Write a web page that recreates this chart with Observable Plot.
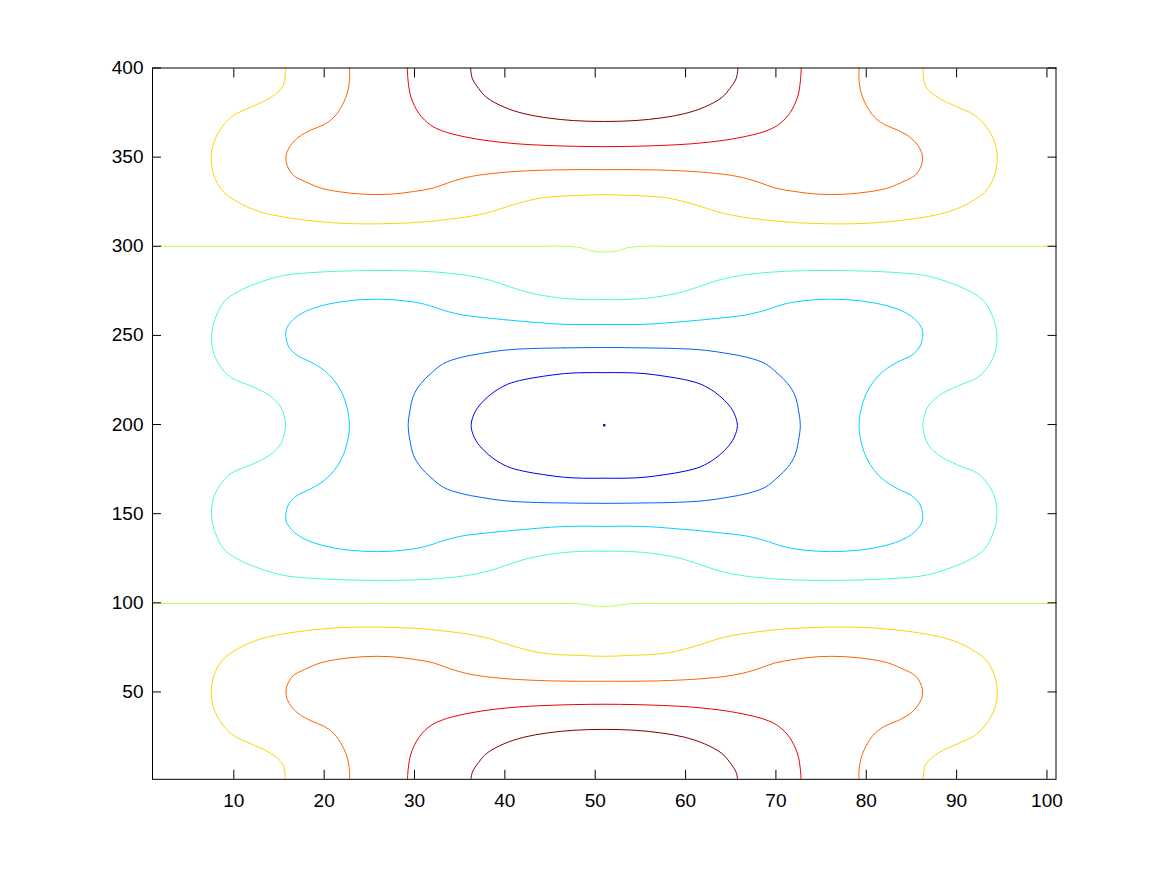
<!DOCTYPE html>
<html>
<head>
<meta charset="utf-8">
<script src="https://cdn.jsdelivr.net/npm/d3@7"></script>
<script src="https://cdn.jsdelivr.net/npm/@observablehq/plot@0.6"></script>
<style>
  html, body { margin: 0; padding: 0; background: #ffffff; }
  #chart { position: absolute; left: 0; top: 0; }
</style>
</head>
<body>
<div id="chart"></div>
<script>
// Contour levels (jet colormap, low to high)
const levels = [0, 1, 2, 3, 4, 5, 6, 7, 8, 9];
const levelColors = ["#000080", "#0000f1", "#0063ff", "#00d4ff", "#47ffb8",
                     "#b8ff47", "#ffd400", "#ff6300", "#f10000", "#800000"];

// Axis ticks
const xTicks = [10, 20, 30, 40, 50, 60, 70, 80, 90, 100];
const yTicks = [50, 100, 150, 200, 250, 300, 350, 400];

// ---- Open contour lines ----
const top9 = [[36.2,400],[36.4,394.1],[37.1,388.5],[38.0,383.4],[39.9,378.1],[42.1,374.4],[44.7,372.0],[47.6,370.5],[51,370.0],[54.4,370.5],[57.3,372.0],[59.9,374.4],[62.1,378.1],[64.0,383.4],[64.9,388.5],[65.6,394.1],[65.8,400]];
const top8 = [[29.2,400],[29.3,392.2],[29.6,383.8],[30.5,374.4],[31.8,367.9],[33.2,364.5],[35.1,361.9],[37.7,359.5],[40.6,357.8],[43.6,356.8],[47.6,356.1],[51,355.9],[54.4,356.1],[58.4,356.8],[61.4,357.8],[64.3,359.5],[66.9,361.9],[68.8,364.5],[70.2,367.9],[71.5,374.4],[72.4,383.8],[72.7,392.2],[72.8,400]];
const top7 = [[22.8,400],[22.8,393.1],[22.6,386.6],[22.0,379.1],[21.1,372.5],[20.0,368.3],[18.5,365.1],[17.2,361.3],[16.3,356.7],[15.8,351.1],[15.9,345.4],[16.6,339.8],[17.8,336.5],[19.6,332.7],[21.8,330.5],[24.4,329.2],[27.3,329.2],[29.9,330.7],[32.1,332.7],[34.0,336.1],[36.2,339.1],[39.5,341.3],[45.1,342.8],[51,343.0],[56.9,342.8],[62.5,341.3],[65.8,339.1],[68.0,336.1],[69.9,332.7],[72.1,330.7],[74.7,329.2],[77.6,329.2],[80.2,330.5],[82.4,332.7],[84.2,336.5],[85.4,339.8],[86.1,345.4],[86.2,351.1],[85.7,356.7],[84.8,361.3],[83.5,365.1],[82.0,368.3],[80.9,372.5],[80.0,379.1],[79.4,386.6],[79.2,393.1],[79.2,400]];
const top6 = [[15.7,400],[15.7,396.9],[15.4,389.4],[13.9,382.9],[11.9,378.1],[10.0,373.5],[8.7,366.9],[7.8,358.5],[7.5,350.1],[7.8,339.8],[8.7,331.4],[10.4,324.9],[13.0,319.2],[17.4,315.0],[22.9,312.7],[29.2,313.1],[33.6,315.0],[37.7,318.3],[41.4,324.0],[44.3,327.3],[48.7,328.6],[51,329.0],[53.3,328.6],[57.7,327.3],[60.6,324.0],[64.3,318.3],[68.4,315.0],[72.8,313.1],[79.1,312.7],[84.6,315.0],[89.0,319.2],[91.6,324.9],[93.3,331.4],[94.2,339.8],[94.5,350.1],[94.2,358.5],[93.3,366.9],[92.0,373.5],[90.1,378.1],[88.1,382.9],[86.6,389.4],[86.3,396.9],[86.3,400]];
const zeroTop = [[1,300],[44,300],[46.5,300],[48.4,299.2],[49.6,297.4],[51,296.8],[52.4,297.4],[53.6,299.2],[55.5,300],[58,300],[101,300]];
const zeroBottom = [[1,99.6],[44,99.6],[47.4,99.6],[48.6,99.2],[50.0,98.2],[51,98.0],[52,98.2],[53.4,99.2],[54.6,99.6],[58,99.6],[101,99.6]];
const bottom6 = [[15.7,-1],[15.7,2.1],[15.4,9.6],[13.9,16.1],[11.9,20.9],[10.0,25.5],[8.7,32.1],[7.8,40.5],[7.5,48.9],[7.8,59.2],[8.7,67.6],[10.4,74.1],[13.0,79.8],[17.4,84.0],[22.9,86.3],[29.2,85.9],[33.6,84.0],[37.7,80.7],[41.4,75.0],[44.3,71.7],[48.7,70.4],[51,70.0],[53.3,70.4],[57.7,71.7],[60.6,75.0],[64.3,80.7],[68.4,84.0],[72.8,85.9],[79.1,86.3],[84.6,84.0],[89.0,79.8],[91.6,74.1],[93.3,67.6],[94.2,59.2],[94.5,48.9],[94.2,40.5],[93.3,32.1],[92.0,25.5],[90.1,20.9],[88.1,16.1],[86.6,9.6],[86.3,2.1],[86.3,-1]];
const bottom7 = [[22.8,-1],[22.8,5.9],[22.6,12.4],[22.0,19.9],[21.1,26.5],[20.0,30.7],[18.5,33.9],[17.2,37.7],[16.3,42.3],[15.8,47.9],[15.9,53.6],[16.6,59.2],[17.8,62.5],[19.6,66.3],[21.8,68.5],[24.4,69.8],[27.3,69.8],[29.9,68.3],[32.1,66.3],[34.0,62.9],[36.2,59.9],[39.5,57.7],[45.1,56.2],[51,56.0],[56.9,56.2],[62.5,57.7],[65.8,59.9],[68.0,62.9],[69.9,66.3],[72.1,68.3],[74.7,69.8],[77.6,69.8],[80.2,68.5],[82.4,66.3],[84.2,62.5],[85.4,59.2],[86.1,53.6],[86.2,47.9],[85.7,42.3],[84.8,37.7],[83.5,33.9],[82.0,30.7],[80.9,26.5],[80.0,19.9],[79.4,12.4],[79.2,5.9],[79.2,-1]];
const bottom8 = [[29.2,-1],[29.3,6.8],[29.6,15.2],[30.5,24.6],[31.8,31.1],[33.2,34.5],[35.1,37.1],[37.7,39.5],[40.6,41.2],[43.6,42.2],[47.6,42.9],[51,43.1],[54.4,42.9],[58.4,42.2],[61.4,41.2],[64.3,39.5],[66.9,37.1],[68.8,34.5],[70.2,31.1],[71.5,24.6],[72.4,15.2],[72.7,6.8],[72.8,-1]];
const bottom9 = [[36.2,-1],[36.4,4.9],[37.1,10.5],[38.0,15.6],[39.9,20.9],[42.1,24.6],[44.7,27.0],[47.6,28.5],[51,29.0],[54.4,28.5],[57.3,27.0],[59.9,24.6],[62.1,20.9],[64.0,15.6],[64.9,10.5],[65.6,4.9],[65.8,-1]];

// ---- Closed contour lines in the middle band ----
const mid4 = [[51,270.1],[48.7,270.1],[45.8,271.2],[42.8,273.8],[40.6,277.2],[38.4,280.9],[35.8,283.7],[33.2,285.2],[30.3,286.1],[26.6,286.4],[22.2,286.1],[18.5,285.2],[15.5,283.6],[13.0,280.0],[10.4,274.4],[8.9,268.8],[8.0,260.3],[7.6,252.9],[7.6,243.5],[8.2,235.1],[9.6,226.7],[11.9,221.6],[13.9,216.4],[15.2,209.8],[15.7,201.4],
  [15.7,197.6],[15.2,189.2],[13.9,182.6],[11.9,177.4],[9.6,172.3],[8.2,163.9],[7.6,155.5],[7.6,146.1],[8.0,138.7],[8.9,130.2],[10.4,124.6],[13.0,119.0],[15.5,115.4],[18.5,113.8],[22.2,112.9],[26.6,112.6],[30.3,112.9],[33.2,113.8],[35.8,115.3],[38.4,118.1],[40.6,121.8],[42.8,125.2],[45.8,127.8],[48.7,128.9],[51,128.9],
  [53.3,128.9],[56.2,127.8],[59.2,125.2],[61.4,121.8],[63.6,118.1],[66.2,115.3],[68.8,113.8],[71.7,112.9],[75.4,112.6],[79.8,112.9],[83.5,113.8],[86.5,115.4],[89.0,119.0],[91.6,124.6],[93.1,130.2],[94.0,138.7],[94.4,146.1],[94.4,155.5],[93.8,163.9],[92.4,172.3],[90.1,177.4],[88.1,182.6],[86.8,189.2],[86.3,197.6],
  [86.3,201.4],[86.8,209.8],[88.1,216.4],[90.1,221.6],[92.4,226.7],[93.8,235.1],[94.4,243.5],[94.4,252.9],[94.0,260.3],[93.1,268.8],[91.6,274.4],[89.0,280.0],[86.5,283.6],[83.5,285.2],[79.8,286.1],[75.4,286.4],[71.7,286.1],[68.8,285.2],[66.2,283.7],[63.6,280.9],[61.4,277.2],[59.2,273.8],[56.2,271.2],[53.3,270.1]];
const mid3 = [[51,256.1],[46.6,256.2],[43.6,257.2],[40.6,258.5],[37.7,260.0],[35.5,261.3],[33.2,264.1],[31.8,266.5],[30.3,268.4],[27.3,270.1],[24.4,270.1],[21.8,268.8],[19.2,265.9],[17.6,262.6],[16.5,258.5],[15.8,253.3],[15.8,248.2],[16.1,243.5],[17.0,238.8],[18.5,235.1],[20.0,230.4],[21.1,224.8],[22.0,217.4],[22.6,208.0],[22.8,199.5],
  [22.6,191.0],[22.0,181.6],[21.1,174.2],[20.0,168.6],[18.5,163.9],[17.0,160.2],[16.1,155.5],[15.8,150.8],[15.8,145.7],[16.5,140.5],[17.6,136.4],[19.2,133.1],[21.8,130.2],[24.4,128.9],[27.3,128.9],[30.3,130.6],[31.8,132.5],[33.2,134.9],[35.5,137.7],[37.7,139.0],[40.6,140.5],[43.6,141.8],[46.6,142.8],[51,142.9],
  [55.4,142.8],[58.4,141.8],[61.4,140.5],[64.3,139.0],[66.5,137.7],[68.8,134.9],[70.2,132.5],[71.7,130.6],[74.7,128.9],[77.6,128.9],[80.2,130.2],[82.8,133.1],[84.4,136.4],[85.5,140.5],[86.2,145.7],[86.2,150.8],[85.9,155.5],[85.0,160.2],[83.5,163.9],[82.0,168.6],[80.9,174.2],[80.0,181.6],[79.4,191.0],[79.2,199.5],
  [79.4,208.0],[80.0,217.4],[80.9,224.8],[82.0,230.4],[83.5,235.1],[85.0,238.8],[85.9,243.5],[86.2,248.2],[86.2,253.3],[85.5,258.5],[84.4,262.6],[82.8,265.9],[80.2,268.8],[77.6,270.1],[74.7,270.1],[71.7,268.4],[70.2,266.5],[68.8,264.1],[66.5,261.3],[64.3,260.0],[61.4,258.5],[58.4,257.2],[55.4,256.2]];
const mid2 = [[51,243.2],[46.6,243.0],[42.8,242.6],[39.9,241.7],[37.3,239.8],[35.1,237.6],[33.2,234.2],[31.8,228.6],[30.7,223.0],[29.9,216.4],[29.5,208.0],[29.3,199.5],
  [29.5,191.0],[29.9,182.6],[30.7,176.0],[31.8,170.4],[33.2,164.8],[35.1,161.4],[37.3,159.2],[39.9,157.3],[42.8,156.4],[46.6,156.0],[51,155.8],
  [55.4,156.0],[59.2,156.4],[62.1,157.3],[64.7,159.2],[66.9,161.4],[68.8,164.8],[70.2,170.4],[71.3,176.0],[72.1,182.6],[72.5,191.0],[72.7,199.5],
  [72.5,208.0],[72.1,216.4],[71.3,223.0],[70.2,228.6],[68.8,234.2],[66.9,237.6],[64.7,239.8],[62.1,241.7],[59.2,242.6],[55.4,243.0]];
const mid1 = [[51,229.1],[48.7,229.1],[46.6,228.6],[44.3,227.1],[42.1,225.2],[40.3,222.6],[38.8,218.3],[37.7,213.6],[36.8,208.0],[36.3,201.4],
  [36.3,197.6],[36.8,191.0],[37.7,185.4],[38.8,180.7],[40.3,176.4],[42.1,173.8],[44.3,171.9],[46.6,170.4],[48.7,169.9],[51,169.9],
  [53.3,169.9],[55.4,170.4],[57.7,171.9],[59.9,173.8],[61.7,176.4],[63.2,180.7],[64.3,185.4],[65.2,191.0],[65.7,197.6],
  [65.7,201.4],[65.2,208.0],[64.3,213.6],[63.2,218.3],[61.7,222.6],[59.9,225.2],[57.7,227.1],[55.4,228.6],[53.3,229.1]];
// Minimum (single-point contour)
const minPoint = [[51, 199.6]];

const openCurves = [
  {id: "top9", level: 9, pts: top9}, {id: "top8", level: 8, pts: top8},
  {id: "top7", level: 7, pts: top7}, {id: "top6", level: 6, pts: top6},
  {id: "zeroTop", level: 5, pts: zeroTop}, {id: "zeroBottom", level: 5, pts: zeroBottom},
  {id: "bottom6", level: 6, pts: bottom6}, {id: "bottom7", level: 7, pts: bottom7},
  {id: "bottom8", level: 8, pts: bottom8}, {id: "bottom9", level: 9, pts: bottom9}
];
const closedCurves = [
  {id: "mid4", level: 4, pts: mid4}, {id: "mid3", level: 3, pts: mid3},
  {id: "mid2", level: 2, pts: mid2}, {id: "mid1", level: 1, pts: mid1}
];

const toRows = curves => curves.flatMap(c => c.pts.map(([x, y]) => ({x, y, level: c.level, id: c.id})));
const openRows = toRows(openCurves);
const closedRows = toRows(closedCurves);
const minRows = minPoint.map(([x, y]) => ({x, y, level: 0}));

const blank = () => "";

const chart = Plot.plot({
  width: 1167,
  height: 875,
  marginLeft: 152,
  marginRight: 111.5,
  marginTop: 67.5,
  marginBottom: 96.2,
  x: {domain: [1, 101]},
  y: {domain: [1, 400]},
  color: {type: "ordinal", domain: levels, range: levelColors},
  style: {background: "#ffffff", color: "#000000", fontFamily: "'Liberation Sans', Arial, Helvetica, sans-serif"},
  marks: [
    Plot.line(openRows, {x: "x", y: "y", z: "id", stroke: "level", strokeWidth: 1, curve: "catmull-rom", clip: true}),
    Plot.line(closedRows, {x: "x", y: "y", z: "id", stroke: "level", strokeWidth: 1, curve: "catmull-rom-closed", clip: true}),
    Plot.dot(minRows, {x: "x", y: "y", fill: "level", symbol: "square", r: 1.3, stroke: null}),
    Plot.frame({stroke: "#000000", strokeWidth: 1}),
    Plot.axisX(xTicks, {anchor: "bottom", tickSize: 0, tickPadding: 14, fontSize: 19, label: null, fill: "#000000"}),
    Plot.axisX(xTicks, {anchor: "bottom", tickSize: -9, tickFormat: blank, label: null}),
    Plot.axisX(xTicks, {anchor: "top", tickSize: -9, tickFormat: blank, label: null}),
    Plot.axisY(yTicks, {anchor: "left", tickSize: 0, tickPadding: 9, fontSize: 19, label: null, fill: "#000000"}),
    Plot.axisY(yTicks, {anchor: "left", tickSize: -9, tickFormat: blank, label: null}),
    Plot.axisY(yTicks, {anchor: "right", tickSize: -9, tickFormat: blank, label: null})
  ]
});
document.getElementById("chart").appendChild(chart);
</script>
</body>
</html>
